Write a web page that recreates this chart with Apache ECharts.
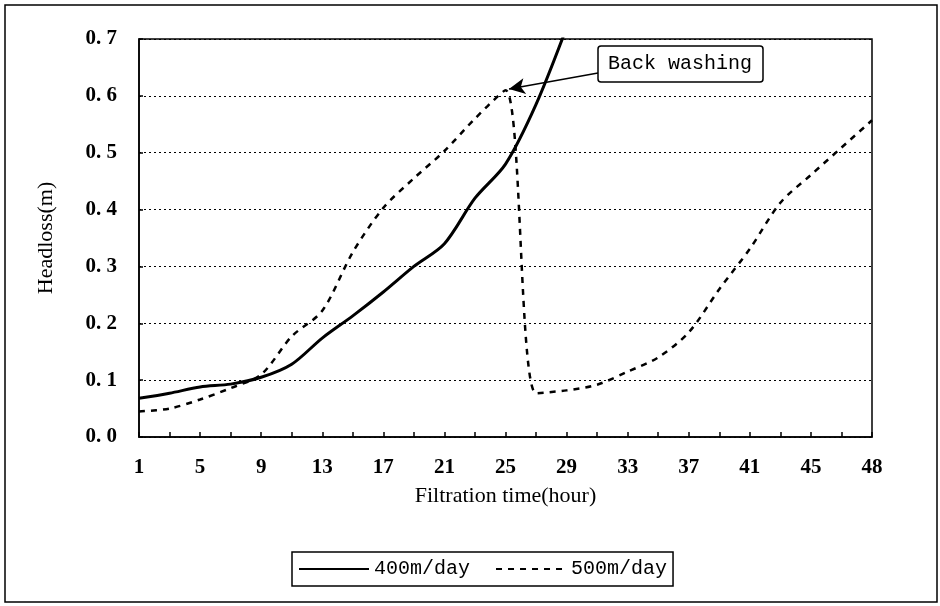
<!DOCTYPE html>
<html>
<head>
<meta charset="utf-8">
<script src="https://cdn.jsdelivr.net/npm/echarts@6/dist/echarts.min.js"></script>
<style>
  html, body { margin: 0; padding: 0; background: #fff; }
  #chart { width: 940px; height: 606px; }
</style>
</head>
<body>
<div id="chart"></div>
<script>
// hours on the axis: every 2 h, last point is 48
const hours = ['1','3','5','7','9','11','13','15','17','19','21','23','25','27','29','31','33','35','37','39','41','43','45','47','48'];
// headloss (m)
const rate400 = [0.068, 0.077, 0.088, 0.093, 0.105, 0.128, 0.174, 0.213, 0.255, 0.30, 0.34, 0.42, 0.48, 0.585, 0.72,
  null, null, null, null, null, null, null, null, null, null];
const rate500 = [0.045, 0.05, 0.066, 0.086, 0.11, 0.177, 0.222, 0.325, 0.403, 0.455, 0.503, 0.56, 0.61,
  0.077, 0.082, 0.092, 0.115, 0.14, 0.184, 0.26, 0.331, 0.412, 0.461, 0.509, 0.557];
const yTicks = [0, 0.1, 0.2, 0.3, 0.4, 0.5, 0.6, 0.7];

const serif = '"Liberation Serif", "Times New Roman", serif';
const mono = '"Liberation Mono", "DejaVu Sans Mono", monospace';

const myChart = echarts.init(document.getElementById('chart'));
myChart.setOption({
  animation: false,
  backgroundColor: '#fff',
  grid: {
    left: 139, top: 39, right: 68, bottom: 169,
    show: true, borderColor: '#000', borderWidth: 1.5
  },
  xAxis: {
    type: 'category',
    data: hours,
    boundaryGap: false,
    name: 'Filtration time(hour)',
    nameLocation: 'middle',
    nameGap: 48,
    nameTextStyle: { fontFamily: serif, fontSize: 22, color: '#000' },
    axisLine: { lineStyle: { color: '#000', width: 1.5 } },
    axisTick: { inside: true, interval: 0, length: 5, lineStyle: { color: '#000', width: 1.5 } },
    axisLabel: { interval: 1, margin: 20, fontFamily: serif, fontSize: 21, fontWeight: 'bold', color: '#000' },
    splitLine: { show: false }
  },
  yAxis: {
    type: 'value',
    min: yTicks[0],
    max: yTicks[yTicks.length - 1],
    interval: 0.1,
    name: 'Headloss(m)',
    nameLocation: 'middle',
    nameGap: 82,
    nameTextStyle: { fontFamily: serif, fontSize: 22, color: '#000' },
    axisLine: { show: true, lineStyle: { color: '#000', width: 1.5 } },
    axisTick: { show: true, inside: true, length: 4, lineStyle: { color: '#000', width: 1.5 } },
    axisLabel: {
      margin: 22, fontFamily: serif, fontSize: 21, fontWeight: 'bold', color: '#000',
      formatter: v => v.toFixed(1).replace('.', '. ')
    },
    splitLine: { lineStyle: { color: '#000', type: [2, 3], width: 1 } }
  },
  legend: {
    left: 292, top: 552,
    borderColor: '#000', borderWidth: 1.5,
    padding: [7, 6],
    itemWidth: 70, itemHeight: 14, itemGap: 25,
    itemStyle: { opacity: 0 },
    textStyle: { fontFamily: mono, fontSize: 20, color: '#000' },
    data: ['400m/day', '500m/day']
  },
  series: [
    {
      name: '400m/day',
      type: 'line',
      data: rate400,
      symbol: 'none',
      smooth: 0.3,
      lineStyle: { color: '#000', width: 3 },
      itemStyle: { color: '#000' }
    },
    {
      name: '500m/day',
      type: 'line',
      data: rate500,
      symbol: 'none',
      smooth: 0.3,
      lineStyle: { color: '#000', width: 2.5, type: [6, 6] },
      itemStyle: { color: '#000' },
      markLine: {
        silent: true,
        symbol: ['none', 'arrow'],
        symbolSize: [12, 16],
        label: { show: false },
        lineStyle: { color: '#000', type: 'solid', width: 1.5 },
        data: [[{ x: 598, y: 73 }, { x: 509, y: 89 }]]
      }
    }
  ],
  graphic: [
    {
      type: 'rect',
      shape: { x: 5, y: 5, width: 932, height: 597 },
      style: { fill: 'transparent', stroke: '#000', lineWidth: 1.5 },
      silent: true
    },
    {
      type: 'rect',
      shape: { x: 598, y: 46, width: 165, height: 36, r: 3 },
      style: { fill: '#fff', stroke: '#000', lineWidth: 1.5 },
      z: 10
    },
    {
      type: 'text',
      x: 680, y: 64,
      style: {
        text: 'Back washing', fontFamily: mono, fontSize: 20, fill: '#000',
        align: 'center', verticalAlign: 'middle'
      },
      z: 11
    }
  ]
});
</script>
</body>
</html>
